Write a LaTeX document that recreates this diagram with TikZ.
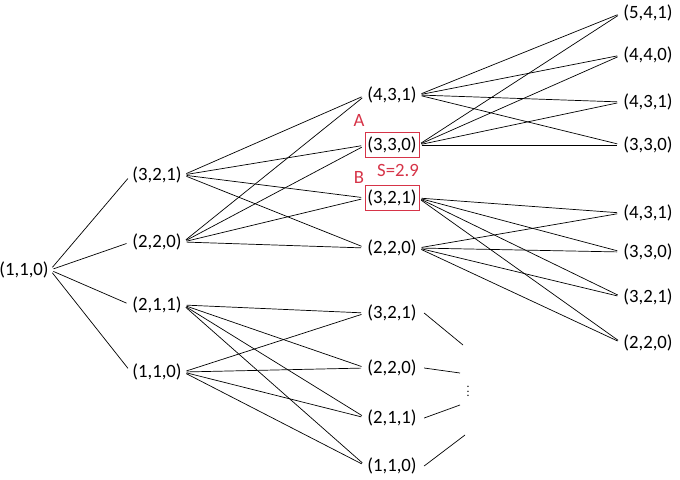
\documentclass[tikz,border=0pt]{standalone}
\usepackage{fontspec}
\setmainfont{Carlito}
\usetikzlibrary{calc,positioning}
\definecolor{boxred}{RGB}{214,52,72}
\begin{document}
\begin{tikzpicture}[x=0.03cm,y=-0.03cm, every path/.style={line width=0.6pt},
  st/.style={font=\fontsize{16}{18}\selectfont, inner sep=1pt},
  link/.style={shorten <=3pt, shorten >=4pt},
  markbox/.style={draw=boxred, line width=0.7pt, inner xsep=2pt, inner ysep=4pt, font=\fontsize{16}{18}\selectfont},
  lab/.style={font=\fontsize{16}{18}\selectfont, text=boxred, inner sep=0pt}]
\useasboundingbox (0,0) rectangle (680,479);
% root and first level
\node[st] (r) at (24,270) {(1,1,0)};
\node[st] (a1) at (157,175) {(3,2,1)};
\node[st] (a2) at (157,242) {(2,2,0)};
\node[st] (a3) at (157,305) {(2,1,1)};
\node[st] (a4) at (157,372) {(1,1,0)};
% second level
\node[st] (b1) at (392,95) {(4,3,1)};
\node[st] (b2) at (392,145) {(3,3,0)};
\node[st] (b3) at (392,198) {(3,2,1)};
\node[st] (b4) at (392,248) {(2,2,0)};
\node[st] (b5) at (392,313) {(3,2,1)};
\node[st] (b6) at (392,368) {(2,2,0)};
\node[st] (b7) at (392,418) {(2,1,1)};
\node[st] (b8) at (392,466) {(1,1,0)};
% third level
\node[st] (c1) at (648,13) {(5,4,1)};
\node[st] (c2) at (648,55) {(4,4,0)};
\node[st] (c3) at (648,102) {(4,3,1)};
\node[st] (c4) at (648,145) {(3,3,0)};
\node[st] (c5) at (648,213) {(4,3,1)};
\node[st] (c6) at (648,252) {(3,3,0)};
\node[st] (c7) at (648,297) {(3,2,1)};
\node[st] (c8) at (648,343) {(2,2,0)};
% marked states
\node[markbox] (boxA) at (b2) {\phantom{(3,3,0)}};
\node[markbox] (boxB) at (b3) {\phantom{(3,2,1)}};
\node[lab] (A) at (359,120) {A};
\node[lab] (B) at (359,177) {B};
\node[lab] (S) at (398,170) {S=2.9};
% connectors
\foreach \i in {1,...,4} \draw[link] (r.east) -- (a\i.west);
\foreach \i in {1,2} \foreach \j in {1,...,4} \draw[link] (a\i.east) -- (b\j.west);
\foreach \i in {3,4} \foreach \j in {5,...,8} \draw[link] (a\i.east) -- (b\j.west);
\foreach \i in {1,2} \foreach \j in {1,...,4} \draw[link] (b\i.east) -- (c\j.west);
\foreach \i in {3,4} \foreach \j in {5,...,8} \draw[link] (b\i.east) -- (c\j.west);
% truncated branches
\coordinate (d1) at (463,345);
\coordinate (d2) at (460,373);
\coordinate (d3) at (460,405);
\coordinate (d4) at (465,435);
\foreach \i/\j in {5/1,6/2,7/3,8/4} \draw ($(b\i.east)+(6,0)$) -- (d\j);
\node[inner sep=0pt] (dots) at (468,388) {$\vdots$};
\end{tikzpicture}
\end{document}
